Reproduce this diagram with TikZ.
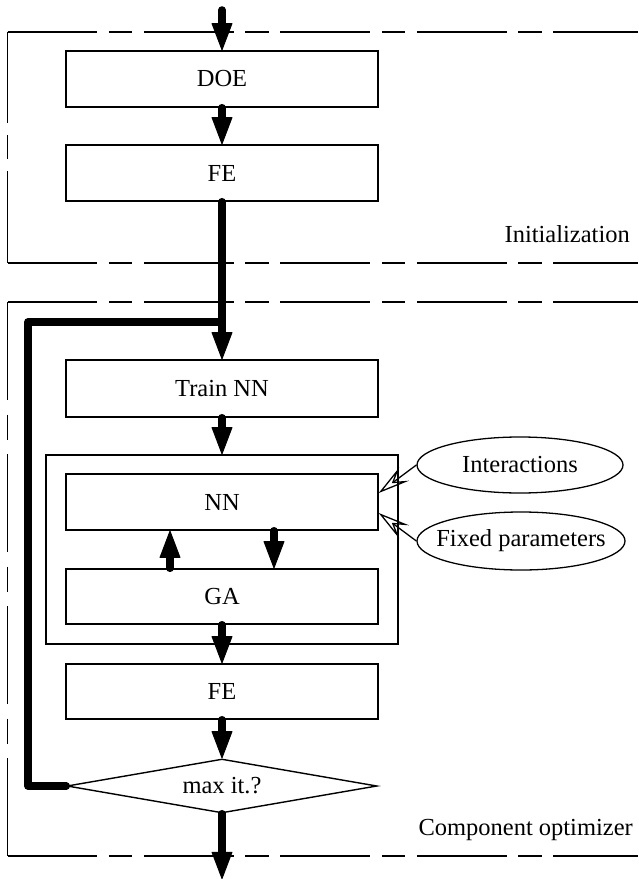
\documentclass[tikz,border=0pt]{standalone}
\usepackage{fontspec}
\setmainfont{Liberation Serif}
\usetikzlibrary{arrows.meta,shapes.geometric,calc}

\begin{document}
\begin{tikzpicture}[x=0.03cm, y=-0.03cm,
  every node/.style={font=\fontsize{20.9}{25}\selectfont},
  stepbox/.style={draw, line width=1.2pt, inner sep=0pt,
                  minimum width=9.36cm, minimum height=1.68cm},
  flow/.style={line width=6.4pt, line cap=round, line join=round,
               -{Triangle[length=24pt, width=18pt, line width=0.8pt, round]}},
  loopline/.style={line width=6.4pt, line cap=round, line join=round},
  feed/.style={line width=1.1pt,
               -{Stealth[open, length=27pt, width=14pt, inset=11pt]}},
  frame/.style={line width=1.3pt,
                dash pattern=on 76.8pt off 9.8pt on 20.06pt off 9.8pt},
  cloud/.style={draw, ellipse, line width=1.1pt, inner xsep=-30pt, inner ysep=0pt}]

\useasboundingbox (0,0) rectangle (638,879);

% dashed group frames
\draw[frame] (7.5,32) -- (638,32);
\draw[frame] (7.5,263) -- (638,263);
\draw[line width=1.3pt, dash pattern=on 78.1pt off 10.2pt on 20.5pt off 10.2pt]
  (7.5,32) -- (7.5,263);
\draw[frame] (7.5,302) -- (638,302);
\draw[frame] (7.5,856) -- (638,856);
\draw[line width=1.3pt, dash pattern=on 83.7pt off 12.4pt on 21.3pt off 12.4pt]
  (7.5,302) -- (7.5,856);

\node[anchor=base east, inner sep=0pt] (initlabel) at (630,243) {Initialization};
\node[anchor=base east, inner sep=0pt] (complabel) at (633,835) {Component optimizer};

% process steps
\node[stepbox] (doe) at (222,79) {DOE};
\node[stepbox] (fe1) at (222,173) {FE};
\node[stepbox, minimum height=1.71cm] (train) at (222,388.5) {Train NN};
\node[draw, line width=1.2pt, inner sep=0pt,
      minimum width=10.56cm, minimum height=5.67cm] (inner) at (222,549.5) {};
\node[stepbox] (nn) at (222,502) {NN};
\node[stepbox, minimum height=1.65cm] (ga) at (222,596.5) {GA};
\node[stepbox, minimum height=1.65cm] (fe2) at (222,691.5) {FE};
\node[diamond, draw, line width=1.2pt, inner sep=0pt, aspect=6,
      minimum width=9.3cm, minimum height=1.62cm] (maxit) at (222,786) {max it.?};

% inputs to the network
\node[cloud, minimum width=6.18cm, minimum height=1.68cm] (inter) at (520,465) {Interactions};
\node[cloud, minimum width=6.24cm, minimum height=1.74cm] (fixed) at (521,541) {Fixed parameters};
\draw[feed] (inter.west) -- ($(nn.east)+(0,-9)$);
\draw[feed] (fixed.west) -- ($(nn.east)+(0,11)$);

% main flow
\coordinate (entry) at (222,10);
\coordinate (exit) at (222,879);
\coordinate (loopcorner) at (28,322);
\draw[flow] (entry) -- (doe.north);
\draw[flow] (doe.south) -- (fe1.north);
\draw[flow] (fe1.south) -- (train.north);
\draw[flow] (train.south) -- (inner.north);
\draw[flow] ($(ga.north)+(-52,0)$) -- ($(nn.south)+(-52,0)$);
\draw[flow] ($(nn.south)+(52,0)$) -- ($(ga.north)+(52,0)$);
\draw[flow] (ga.south) -- (fe2.north);
\draw[flow] (fe2.south) -- (maxit.north);
\draw[flow] (maxit.south) -- (exit);

% iteration loop back to training
\draw[loopline] (maxit.west) -| (loopcorner) -- (loopcorner -| fe1.south);

\end{tikzpicture}
\end{document}
